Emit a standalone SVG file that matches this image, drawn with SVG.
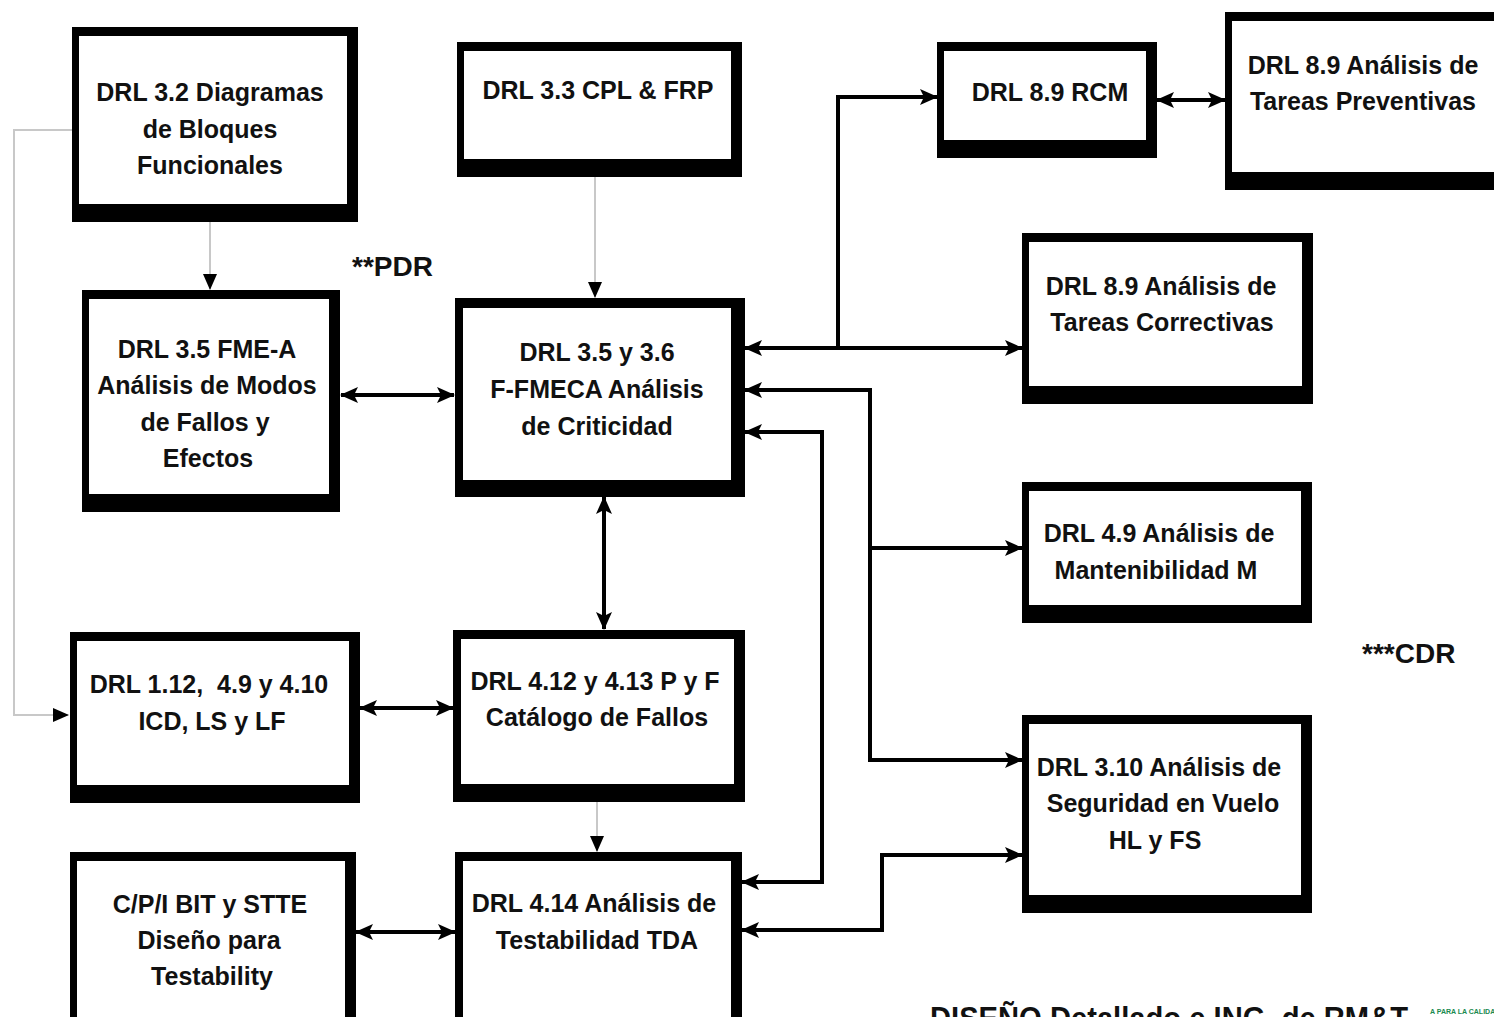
<svg xmlns="http://www.w3.org/2000/svg" width="1494" height="1017" viewBox="0 0 1494 1017">
<style>
.frame{fill:#000}
.inner{fill:#fff}
.t{font-family:"Liberation Sans",Arial,sans-serif;font-weight:bold;font-size:25px;fill:#111;text-anchor:middle}
.lbl{font-family:"Liberation Sans",Arial,sans-serif;font-weight:bold;font-size:28px;fill:#111}
.c{fill:none;stroke:#000;stroke-width:4}
.g{fill:none;stroke:#c8c8c8;stroke-width:2}
</style>
<defs>
<marker id="ah" markerUnits="userSpaceOnUse" markerWidth="18" markerHeight="16" refX="17" refY="8" orient="auto-start-reverse" viewBox="0 0 18 16">
<path d="M0,0 L18,8 L0,16 L4,8 z" fill="#000"/>
</marker>
<marker id="as" markerUnits="userSpaceOnUse" markerWidth="16" markerHeight="14" refX="15" refY="7" orient="auto" viewBox="0 0 16 14">
<path d="M0,0 L16,7 L0,14 z" fill="#000"/>
</marker>
</defs>
<rect width="1494" height="1017" fill="#fff"/>

<g id="connectors">
<path class="g" d="M72,130 H14 V715 H68" marker-end="url(#as)"/>
<path class="g" d="M210,222 V289" marker-end="url(#as)"/>
<path class="g" d="M595,177 V297" marker-end="url(#as)"/>
<path class="g" d="M597,802 V851" marker-end="url(#as)"/>
<path class="c" d="M341,395 H454" marker-start="url(#ah)" marker-end="url(#ah)"/>
<path class="c" d="M604,497 V629" marker-start="url(#ah)" marker-end="url(#ah)"/>
<path class="c" d="M360,708 H453" marker-start="url(#ah)" marker-end="url(#ah)"/>
<path class="c" d="M356,932 H455" marker-start="url(#ah)" marker-end="url(#ah)"/>
<path class="c" d="M745,348 H1022" marker-start="url(#ah)" marker-end="url(#ah)"/>
<path class="c" d="M838,348 V97 H937" marker-end="url(#ah)"/>
<path class="c" d="M1157,100 H1225" marker-start="url(#ah)" marker-end="url(#ah)"/>
<path class="c" d="M745,390 H870 V760 H1022" marker-start="url(#ah)" marker-end="url(#ah)"/>
<path class="c" d="M870,548 H1022" marker-end="url(#ah)"/>
<path class="c" d="M745,432 H822 V882 H742" marker-start="url(#ah)" marker-end="url(#ah)"/>
<path class="c" d="M742,930 H882 V855 H1022" marker-start="url(#ah)" marker-end="url(#ah)"/>
</g>

<g id="drl32">
<rect class="frame" x="72" y="27" width="286" height="195"/>
<rect class="inner" x="79" y="36" width="268" height="168"/>
<text class="t" x="210" y="101">DRL 3.2 Diagramas</text>
<text class="t" x="210" y="138">de Bloques</text>
<text class="t" x="210" y="174">Funcionales</text>
</g>
<g id="drl33">
<rect class="frame" x="457" y="42" width="285" height="135"/>
<rect class="inner" x="464" y="51" width="267" height="108"/>
<text class="t" x="598" y="99">DRL 3.3 CPL &amp; FRP</text>
</g>
<g id="drl89rcm">
<rect class="frame" x="937" y="42" width="220" height="116"/>
<rect class="inner" x="944" y="51" width="202" height="89"/>
<text class="t" x="1050" y="101">DRL 8.9 RCM</text>
</g>
<g id="drl89prev">
<rect class="frame" x="1225" y="12" width="290" height="178"/>
<rect class="inner" x="1232" y="21" width="290" height="151"/>
<text class="t" x="1363" y="74">DRL 8.9 Análisis de</text>
<text class="t" x="1363" y="110">Tareas Preventivas</text>
</g>
<g id="drl35">
<rect class="frame" x="82" y="290" width="258" height="222"/>
<rect class="inner" x="89" y="299" width="240" height="195"/>
<text class="t" x="207" y="358">DRL 3.5 FME-A</text>
<text class="t" x="207" y="394">Análisis de Modos</text>
<text class="t" x="205" y="431">de Fallos y</text>
<text class="t" x="208" y="467">Efectos</text>
</g>
<g id="drl3536">
<rect class="frame" x="455" y="298" width="290" height="199"/>
<rect class="inner" x="463" y="308" width="268" height="172"/>
<text class="t" x="597" y="361">DRL 3.5 y 3.6</text>
<text class="t" x="597" y="398">F-FMECA Análisis</text>
<text class="t" x="597" y="435">de Criticidad</text>
</g>
<g id="drl89corr">
<rect class="frame" x="1022" y="233" width="291" height="171"/>
<rect class="inner" x="1029" y="242" width="273" height="144"/>
<text class="t" x="1161" y="295">DRL 8.9 Análisis de</text>
<text class="t" x="1162" y="331">Tareas Correctivas</text>
</g>
<g id="drl49">
<rect class="frame" x="1022" y="482" width="290" height="141"/>
<rect class="inner" x="1029" y="491" width="272" height="114"/>
<text class="t" x="1159" y="542">DRL 4.9 Análisis de</text>
<text class="t" x="1156" y="579">Mantenibilidad M</text>
</g>
<g id="drl112">
<rect class="frame" x="70" y="632" width="290" height="171"/>
<rect class="inner" x="77" y="641" width="272" height="144"/>
<text class="t" x="209" y="693" xml:space="preserve">DRL 1.12,  4.9 y 4.10</text>
<text class="t" x="212" y="730">ICD, LS y LF</text>
</g>
<g id="drl412">
<rect class="frame" x="453" y="630" width="292" height="172"/>
<rect class="inner" x="461" y="639" width="273" height="145"/>
<text class="t" x="595" y="690">DRL 4.12 y 4.13 P y F</text>
<text class="t" x="597" y="726">Catálogo de Fallos</text>
</g>
<g id="drl310">
<rect class="frame" x="1022" y="715" width="290" height="198"/>
<rect class="inner" x="1029" y="724" width="272" height="171"/>
<text class="t" x="1159" y="776">DRL 3.10 Análisis de</text>
<text class="t" x="1163" y="812">Seguridad en Vuelo</text>
<text class="t" x="1155" y="849">HL y FS</text>
</g>
<g id="cpibit">
<rect class="frame" x="70" y="852" width="286" height="200"/>
<rect class="inner" x="77" y="861" width="268" height="173"/>
<text class="t" x="210" y="913">C/P/I BIT y STTE</text>
<text class="t" x="209" y="949">Diseño para</text>
<text class="t" x="212" y="985">Testability</text>
</g>
<g id="drl414">
<rect class="frame" x="455" y="852" width="287" height="200"/>
<rect class="inner" x="463" y="861" width="268" height="173"/>
<text class="t" x="594" y="912">DRL 4.14 Análisis de</text>
<text class="t" x="597" y="949">Testabilidad TDA</text>
</g>

<g id="labels">
<text class="lbl" x="352" y="276">**PDR</text>
<text class="lbl" x="1362" y="663">***CDR</text>
<text class="lbl" x="930" y="1029" style="font-size:31px" textLength="478" lengthAdjust="spacingAndGlyphs">DISEÑO Detallado e ING. de RM&amp;T</text>
<text x="1430" y="1014" font-family="Liberation Sans, Arial, sans-serif" font-weight="bold" font-size="7" fill="#1a8a50">A PARA LA CALIDA</text>
</g>
</svg>
